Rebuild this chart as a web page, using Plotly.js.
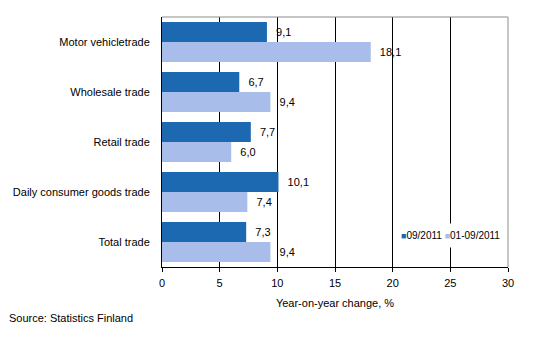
<!DOCTYPE html>
<html>
<head>
<meta charset="utf-8">
<script src="https://cdn.plot.ly/plotly-3.0.1.min.js"></script>
<style>html,body{margin:0;padding:0;background:#fff;}#chart{width:534px;height:360px;}</style>
</head>
<body>
<div id="chart"></div>
<script>
var categories = ["Motor vehicletrade", "Wholesale trade", "Retail trade", "Daily consumer goods trade", "Total trade"];
var seriesNames = ["09/2011", "01-09/2011"];
var sep2011 = [9.1, 6.7, 7.7, 10.1, 7.3];
var jan_sep2011 = [18.1, 9.4, 6.0, 7.4, 9.4];
var xTicks = [0, 5, 10, 15, 20, 25, 30];

var colors = ["#1c69b2", "#a8bde9"];
var fmt = function(v){ return "\u00a0\u00a0" + v.toFixed(1).replace(".", ","); };

var traces = [sep2011, jan_sep2011].map(function(vals, i){
  return {
    type: "bar", orientation: "h",
    x: vals, y: categories, name: seriesNames[i],
    marker: {color: colors[i], line: {width: 0}},
    hoverinfo: "none", showlegend: false,
    text: vals.map(fmt), textposition: "outside",
    textfont: {family: "Liberation Sans, Arial, sans-serif", size: 11, color: "#000"},
    cliponaxis: false
  };
});

var legendText = seriesNames.map(function(n, i){
  return '<span style="color:' + colors[i] + ';font-size:9px">\u25A0</span>' + n;
}).join(" ");

var layout = {
  width: 534, height: 360,
  margin: {l: 162, r: 26, t: 17, b: 93, autoexpand: false},
  paper_bgcolor: "#fff", plot_bgcolor: "#fff",
  font: {family: "Liberation Sans, Arial, sans-serif", size: 11, color: "#000"},
  barmode: "group", bargap: 0.2, bargroupgap: 0,
  showlegend: false,
  xaxis: {range: [0, 30], tickvals: xTicks, ticktext: xTicks.map(String),
          showgrid: true, gridcolor: "#000", gridwidth: 1, zeroline: false,
          showline: true, linecolor: "#000", linewidth: 1,
          ticks: "outside", ticklen: 4, tickcolor: "#000", ticklabelstandoff: 2,
          title: {text: "Year-on-year change, %", font: {size: 11}, standoff: 11},
          automargin: false, fixedrange: true},
  yaxis: {type: "category", autorange: "reversed",
          showline: true, linecolor: "#000", linewidth: 1, showgrid: false,
          ticks: "", ticklabelstandoff: 9, automargin: false, fixedrange: true},
  shapes: [
    {type: "line", xref: "paper", yref: "paper", x0: 0, x1: 1, y0: 1, y1: 1, line: {color: "#8c8c8c", width: 1}, layer: "above"},
    {type: "line", xref: "paper", yref: "paper", x0: 1, x1: 1, y0: 0, y1: 1, line: {color: "#8c8c8c", width: 1}, layer: "above"}
  ],
  annotations: [
    {text: legendText, xref: "paper", yref: "paper", x: 0.997, y: 0.125,
     xanchor: "right", yanchor: "middle", showarrow: false, bgcolor: "#fff",
     borderpad: 6, font: {size: 10}},
    {text: "Source: Statistics Finland", xref: "paper", yref: "paper", x: -155/346, y: -51/250,
     xanchor: "left", yanchor: "middle", showarrow: false, font: {size: 11}}
  ]
};

Plotly.newPlot("chart", traces, layout, {displayModeBar: false, staticPlot: true});
</script>
</body>
</html>
